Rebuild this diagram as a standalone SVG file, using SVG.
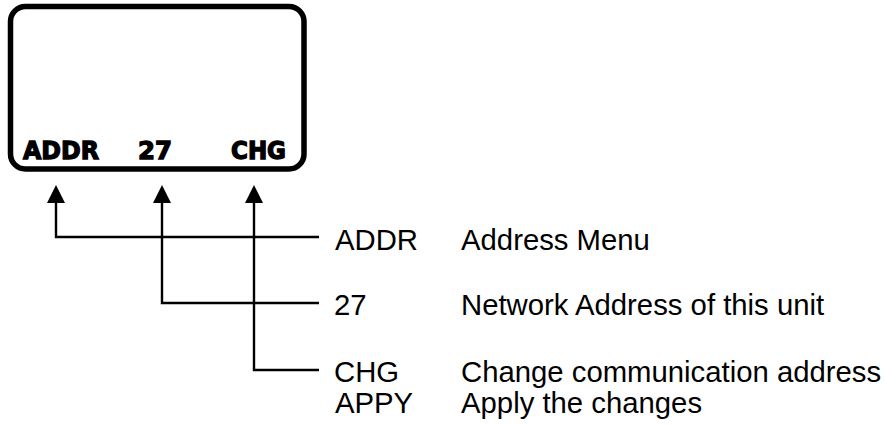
<svg xmlns="http://www.w3.org/2000/svg" width="884" height="426" viewBox="0 0 884 426">
<style>
.lcd{font-family:"DejaVu Sans","Liberation Sans",sans-serif;font-weight:bold;font-size:24px;fill:#000;stroke:#000;stroke-width:1.3;stroke-linejoin:miter}
.lbl{font-family:"Liberation Sans",Arial,sans-serif;font-size:29.3px;fill:#000}
.conn{fill:none;stroke:#000;stroke-width:2.4}
</style>
<defs>
<marker id="arr" markerUnits="userSpaceOnUse" viewBox="0 0 18 18" markerWidth="18" markerHeight="18" refX="0" refY="9" orient="auto">
<path d="M0,0 L18,9 L0,18 z" fill="#000"/>
</marker>
</defs>
<rect width="884" height="426" fill="#fff"/>
<g id="display">
<rect x="10.5" y="6.5" width="293.5" height="162.5" rx="15" ry="15" fill="none" stroke="#000" stroke-width="5.5"/>
<text class="lcd" x="23" y="159" textLength="76" lengthAdjust="spacingAndGlyphs">ADDR</text>
<text class="lcd" x="138" y="159" textLength="34" lengthAdjust="spacingAndGlyphs">27</text>
<text class="lcd" x="231" y="159" textLength="55" lengthAdjust="spacingAndGlyphs">CHG</text>
</g>
<g id="connectors">
<path class="conn" d="M319,237 H56 V203" marker-end="url(#arr)"/>
<path class="conn" d="M319,303 H162 V203" marker-end="url(#arr)"/>
<path class="conn" d="M319,370 H254 V203" marker-end="url(#arr)"/>
</g>
<g id="label-addr">
<text class="lbl" x="335" y="250">ADDR</text>
<text class="lbl" x="461" y="250">Address Menu</text>
</g>
<g id="label-27">
<text class="lbl" x="334" y="315">27</text>
<text class="lbl" x="461" y="315">Network Address of this unit</text>
</g>
<g id="label-chg">
<text class="lbl" x="334" y="382">CHG</text>
<text class="lbl" x="461" y="382">Change communication address</text>
</g>
<g id="label-appy">
<text class="lbl" x="335" y="413">APPY</text>
<text class="lbl" x="461" y="413">Apply the changes</text>
</g>
</svg>
